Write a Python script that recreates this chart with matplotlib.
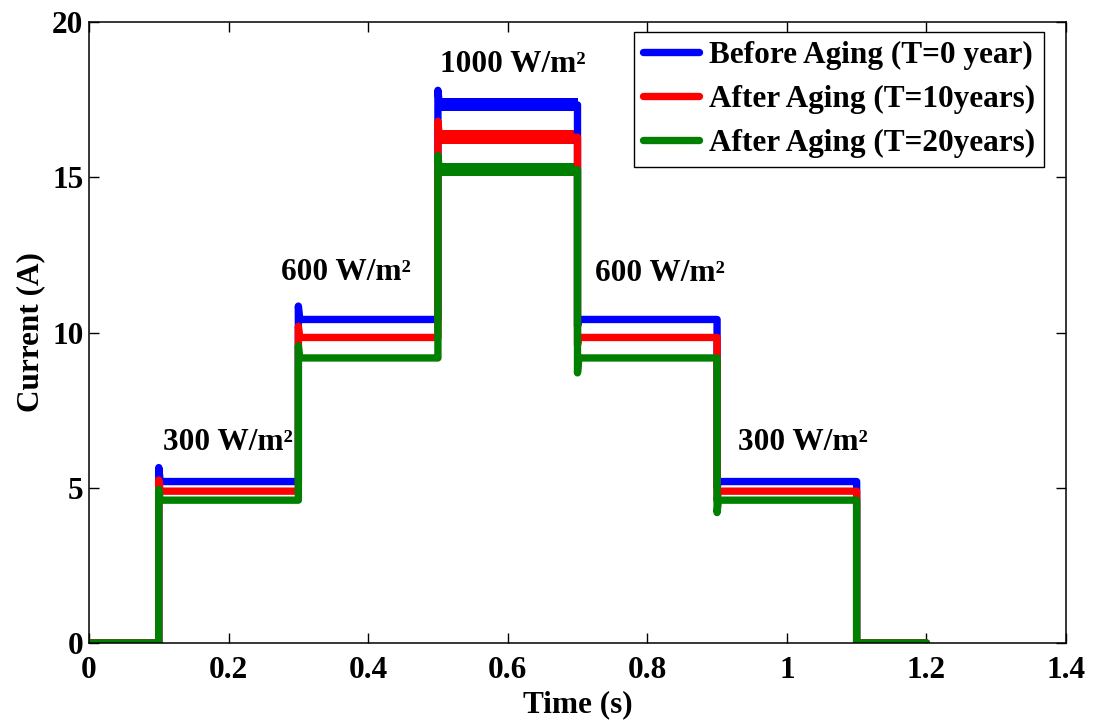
import numpy as np
import matplotlib
matplotlib.use('Agg')
import matplotlib.pyplot as plt

plt.rcParams['font.family'] = ['Liberation Serif', 'DejaVu Serif']
plt.rcParams['font.weight'] = 'bold'
plt.rcParams['axes.labelweight'] = 'bold'
plt.rcParams['font.size'] = 22.5

# switching instants (s)
t_edges = [0.0, 0.1, 0.3, 0.5, 0.7, 0.9, 1.1, 1.2]

# plateau current levels (A) for each irradiance step
levels_t0 = [0.0, 5.2, 10.42, 17.33, 10.42, 5.2, 0.0]
levels_t10 = [0.0, 4.89, 9.84, 16.29, 9.84, 4.89, 0.0]
levels_t20 = [0.0, 4.6, 9.18, 15.24, 9.18, 4.6, 0.0]

# overshoot / undershoot peak at each switching instant (0.1 ... 1.1)
peaks_t0 = [5.65, 10.85, 17.8, 10.2, 5.0, 0.0]
peaks_t10 = [5.25, 10.2, 16.8, 9.6, 4.6, 0.0]
peaks_t20 = [4.95, 9.57, 15.7, 8.7, 4.2, 0.0]

# ripple half-amplitude on each plateau (A)
ripple_t0 = [0.0, 0.05, 0.12, 0.21, 0.12, 0.05, 0.0]
ripple_t10 = [0.0, 0.05, 0.11, 0.22, 0.11, 0.05, 0.0]
ripple_t20 = [0.0, 0.0, 0.03, 0.21, 0.03, 0.0, 0.0]

series = [
    ('Before Aging (T=0 year)', '#0000FF', levels_t0, peaks_t0, ripple_t0),
    ('After Aging (T=10years)', '#FF0000', levels_t10, peaks_t10, ripple_t10),
    ('After Aging (T=20years)', '#008000', levels_t20, peaks_t20, ripple_t20),
]

irradiance_labels = ['300 W/m²', '600 W/m²', '1000 W/m²', '600 W/m²', '300 W/m²']
label_x = [0.106, 0.275, 0.503, 0.725, 0.93]
label_y = [6.45, 11.93, 18.63, 11.9, 6.45]


def build_path(levels, peaks):
    xs, ys = [t_edges[0]], [levels[0]]
    for i in range(1, len(t_edges) - 1):
        t = t_edges[i]
        xs += [t, t, t + 0.002]
        ys += [levels[i - 1], peaks[i - 1], levels[i]]
    xs.append(t_edges[-1])
    ys.append(levels[-1])
    return xs, ys


fig = plt.figure(figsize=(10.93, 7.22), dpi=100)
ax = fig.add_axes([89 / 1093, 79 / 722, 977 / 1093, 621 / 722])

for name, color, levels, peaks, ripple in series:
    xs, ys = build_path(levels, peaks)
    ax.plot(xs, ys, color=color, linewidth=5.3, label=name,
            solid_joinstyle='round', solid_capstyle='round')
    for i in range(len(levels)):
        if ripple[i] > 0:
            seg = [t_edges[i] + 0.003, t_edges[i + 1]]
            ax.fill_between(seg, levels[i] - ripple[i], levels[i] + ripple[i],
                            color=color, linewidth=0)

for txt, x, y in zip(irradiance_labels, label_x, label_y):
    ax.text(x, y, txt, ha='left', va='center', fontweight='bold')

ax.set_xlim(0, 1.4)
ax.set_ylim(0, 20)
ax.set_xticks([0, 0.2, 0.4, 0.6, 0.8, 1.0, 1.2, 1.4])
ax.set_xticklabels(['0', '0.2', '0.4', '0.6', '0.8', '1', '1.2', '1.4'])
ax.set_yticks([0, 5, 10, 15, 20])
ax.tick_params(direction='in', length=7, width=1, top=True, right=True)
ax.tick_params(axis='x', pad=9)
ax.tick_params(axis='y', pad=4)
for sp in ax.spines.values():
    sp.set_linewidth(1.1)

ax.set_xlabel('Time (s)', labelpad=4)
ax.set_ylabel('Current (A)', labelpad=5)

leg = ax.legend(loc='upper right', bbox_to_anchor=(0.9775, 0.984), borderaxespad=0,
                fancybox=False, edgecolor='black', framealpha=1,
                handlelength=1.8, handletextpad=0.3, labelspacing=0.47,
                borderpad=0.3, fontsize=22.5)
leg.get_frame().set_linewidth(1.0)

plt.savefig('out.png', dpi=100)
plt.close()
